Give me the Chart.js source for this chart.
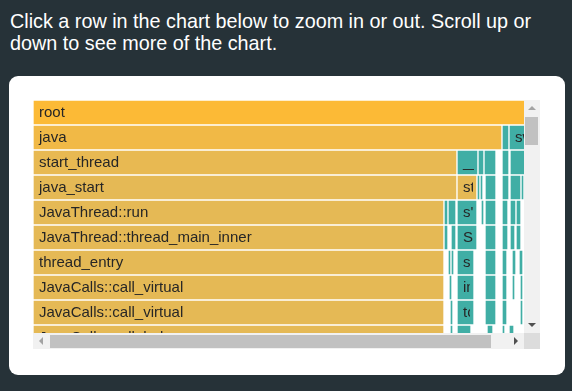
<!DOCTYPE html>
<html>
<head>
<meta charset="utf-8">
<script src="https://cdn.jsdelivr.net/npm/chart.js@4"></script>
<style>
  html, body { margin: 0; padding: 0; }
  body {
    width: 572px; height: 391px; overflow: hidden;
    background: #263238;
    font-family: "Liberation Sans", Arial, sans-serif;
  }
  .intro {
    position: absolute; left: 10px; top: 10px; width: 545px;
    color: #fff; font-size: 19.8px; line-height: 22px;
  }
  .card {
    position: absolute; left: 9px; top: 76px; width: 556px; height: 299px;
    background: #fff; border-radius: 9px;
  }
  .viewport {
    position: absolute; left: 24px; top: 24px; width: 491px; height: 233px;
    overflow: hidden;
  }
  .viewport canvas { display: block; }
  .vbar {
    position: absolute; left: 515px; top: 24px; width: 16px; height: 233px;
    background: #f1f1f1;
  }
  .vthumb {
    position: absolute; left: 1px; top: 17px; width: 13px; height: 28px;
    background: #c1c1c1;
  }
  .hbar {
    position: absolute; left: 24px; top: 257px; width: 491px; height: 16px;
    background: #f1f1f1;
  }
  .hthumb {
    position: absolute; left: 17px; top: 2px; width: 441px; height: 13px;
    background: #c1c1c1;
  }
  .corner {
    position: absolute; left: 515px; top: 257px; width: 16px; height: 16px;
    background: #dcdcdc;
  }
  .tri { position: absolute; width: 0; height: 0; border: 4px solid transparent; }
  .up { left: 4px; top: 2px; border-bottom-color: #a3a3a3; }
  .down { left: 4px; bottom: 2px; border-top-color: #505050; }
  .left { left: 2px; top: 4px; border-right-color: #a3a3a3; }
  .right { right: 2px; top: 4px; border-left-color: #505050; }
</style>
</head>
<body>
<div class="intro">Click a row in the chart below to zoom in or out. Scroll up or down to see more of the chart.</div>
<div class="card">
  <div class="viewport"><canvas id="flame"></canvas></div>
  <div class="vbar"><div class="tri up"></div><div class="vthumb"></div><div class="tri down"></div></div>
  <div class="hbar"><div class="tri left"></div><div class="hthumb"></div><div class="tri right"></div></div>
  <div class="corner"></div>
</div>
<script>
// flame graph frames: name, depth (row), first sample, last sample
const frameNames = [
  "root",
  "java", "", "swapper",
  "start_thread", "__clone", "", "", "", "",
  "java_start", "start_thread", "", "", "", "", "", "",
  "JavaThread::run", "", "", "s'thread", "", "", "", "", "",
  "JavaThread::thread_main_inner", "", "", "SafepointSynchronize::begin", "", "", "", "",
  "thread_entry", "", "", "safepoint_poll", "", "", "", "",
  "JavaCalls::call_virtual", "", "interpreter_entry", "", "", "", "",
  "JavaCalls::call_virtual", "", "tcp_sendmsg", "", "", "",
  "JavaCalls::call_helper", "", "", "", "", ""
];
const frameDepth = [
  0,
  1, 1, 1,
  2, 2, 2, 2, 2, 2,
  3, 3, 3, 3, 3, 3, 3, 3,
  4, 4, 4, 4, 4, 4, 4, 4, 4,
  5, 5, 5, 5, 5, 5, 5, 5,
  6, 6, 6, 6, 6, 6, 6, 6,
  7, 7, 7, 7, 7, 7, 7,
  8, 8, 8, 8, 8, 8,
  9, 9, 9, 9, 9, 9
];
const frameStart = [
  0,
  0, 938, 952,
  0, 848, 890, 902, 938, 954,
  0, 848, 888, 894, 904, 938, 954, 976,
  0, 822, 830, 848, 896, 904, 938, 954, 966,
  0, 822, 836, 848, 904, 938, 954, 966,
  0, 830, 836, 848, 904, 938, 958, 972,
  0, 832, 848, 904, 938, 958, 974,
  0, 834, 848, 904, 938, 974,
  0, 834, 848, 908, 938, 952
];
const frameEnd = [
  1100,
  938, 952, 1100,
  848, 890, 902, 926, 952, 1040,
  848, 888, 894, 900, 926, 952, 976, 982,
  822, 830, 846, 888, 902, 926, 950, 966, 976,
  822, 830, 846, 888, 926, 950, 964, 976,
  822, 836, 842, 882, 926, 948, 966, 980,
  822, 838, 882, 926, 948, 964, 980,
  822, 840, 882, 926, 948, 980,
  822, 840, 876, 920, 944, 962
];
// frames on the main java thread path are drawn warm, the rest teal
const mainPath = ["root", "java", "start_thread", "java_start", "JavaThread::run",
  "JavaThread::thread_main_inner", "thread_entry", "JavaCalls::call_virtual", "JavaCalls::call_helper"];

const visibleSamples = 982;
const visibleRows = 233 / 25;

function frameColor(name, depth) {
  if (depth === 0) return "#fcba36";
  if (mainPath.indexOf(name) < 0) return "#40aea5";
  if (depth === 1) return "#f1b946";
  if (depth === 2) return "#e8b952";
  return "#e5b955";
}

const points = frameNames.map((name, i) => ({
  x: [frameStart[i], frameEnd[i]],
  y: frameDepth[i],
  name: name
}));

const frameLabels = {
  id: "frameLabels",
  afterDatasetsDraw(chart) {
    const ctx = chart.ctx;
    const meta = chart.getDatasetMeta(0);
    ctx.save();
    ctx.font = "15px 'Liberation Sans', Arial, sans-serif";
    ctx.fillStyle = "#262626";
    ctx.textBaseline = "middle";
    meta.data.forEach((bar, i) => {
      const name = frameNames[i];
      if (!name) return;
      const left = Math.min(bar.base, bar.x) + 1;
      const right = Math.max(bar.base, bar.x) - 1;
      ctx.save();
      ctx.beginPath();
      ctx.rect(left, bar.y - 12, right - left - 3, 24);
      ctx.clip();
      ctx.fillText(name, left + 5, bar.y);
      ctx.restore();
    });
    ctx.restore();
  }
};

const canvas = document.getElementById("flame");
canvas.width = 491;
canvas.height = 233;

new Chart(canvas, {
  type: "bar",
  data: {
    datasets: [{
      data: points,
      backgroundColor: frameNames.map((n, i) => frameColor(n, frameDepth[i])),
      borderColor: "#ffffff",
      borderWidth: 1,
      borderSkipped: false,
      barThickness: 25
    }]
  },
  options: {
    indexAxis: "y",
    responsive: false,
    animation: false,
    layout: { padding: 0 },
    scales: {
      x: { type: "linear", min: 0, max: visibleSamples, display: false, offset: false },
      y: { type: "linear", min: -0.5, max: -0.5 + visibleRows, reverse: true, display: false, offset: false }
    },
    plugins: {
      legend: { display: false },
      tooltip: { enabled: false }
    }
  },
  plugins: [frameLabels]
});
</script>
</body>
</html>
